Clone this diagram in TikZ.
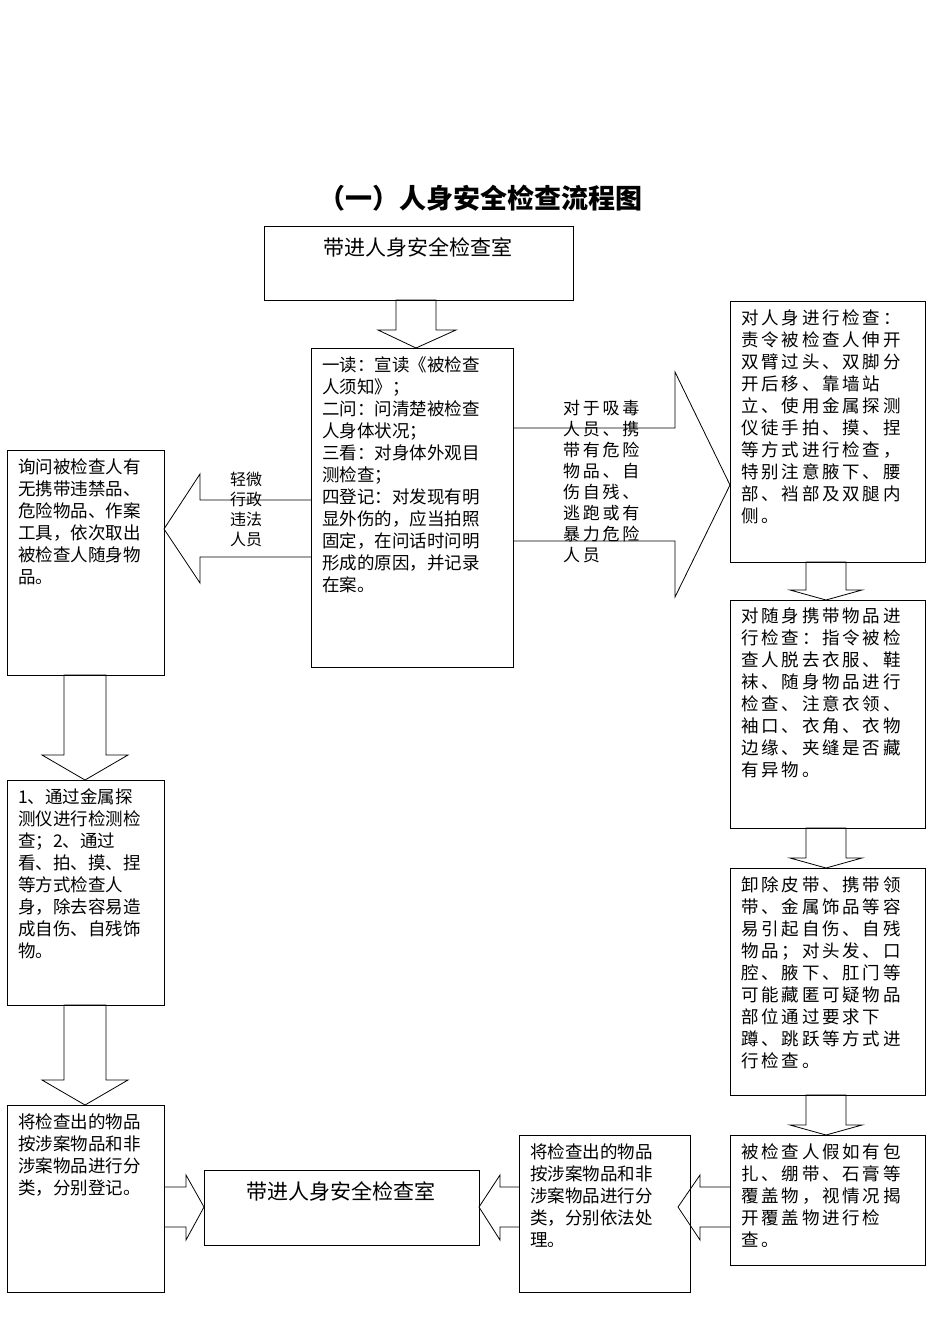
\documentclass[tikz,border=0pt]{standalone}
\usepackage{fontspec}
\setmainfont{Noto Sans CJK SC}
\newfontfamily\wide[LetterSpace=16]{Noto Sans CJK SC}
\begin{document}
\begin{tikzpicture}[x=1pt,y=-1pt,
 box/.style={draw,line width=0.8pt},
 txt/.style={anchor=north west,align=left,inner sep=0pt,font=\fontsize{17.5}{22}\selectfont},
 wtxt/.style={txt,font=\wide\fontsize{17.5}{22}\selectfont},
 barrow/.style={draw,line width=0.8pt,fill=white}]
\useasboundingbox (0,0) rectangle (950,1344);
\node[font=\bfseries\fontsize{27}{30}\selectfont] (title) at (480,198) {（一）人身安全检查流程图};
% block arrows
\draw[barrow] (396,300)--(436,300)--(436,330)--(456,330)--(416,348)--(378,330)--(396,330)--cycle;
\draw[barrow] (311,500)--(200,500)--(200,474)--(164,529)--(200,583)--(200,557)--(311,557);
\draw[barrow] (513,428)--(675,428)--(675,372)--(730,485)--(675,597)--(675,541)--(513,541);
\draw[barrow] (806,562)--(846,562)--(846,590)--(862,590)--(826,600)--(790,590)--(806,590)--cycle;
\draw[barrow] (806,828)--(846,828)--(846,858)--(862,858)--(826,868)--(790,858)--(806,858)--cycle;
\draw[barrow] (806,1095)--(846,1095)--(846,1125)--(862,1125)--(826,1135)--(790,1125)--(806,1125)--cycle;
\draw[barrow] (730,1187)--(700,1187)--(700,1175)--(678,1207)--(700,1240)--(700,1227)--(730,1227);
\draw[barrow] (519,1187)--(500,1187)--(500,1175)--(479,1207)--(500,1240)--(500,1227)--(519,1227);
\draw[barrow] (164,1187)--(186,1187)--(186,1175)--(204,1207)--(186,1240)--(186,1227)--(164,1227);
\draw[barrow] (64,675)--(106,675)--(106,755)--(128,755)--(85,780)--(42,755)--(64,755)--cycle;
\draw[barrow] (64,1005)--(106,1005)--(106,1080)--(128,1080)--(85,1105)--(42,1080)--(64,1080)--cycle;
% boxes
\draw[box] (264,226) rectangle (573,300);
\node[font=\fontsize{21}{24}\selectfont] (At) at (418,247) {带进人身安全检查室};
\draw[box] (311,348) rectangle (513,667);
\node[txt] (Bt) at (322,356) {一读：宣读《被检查\\人须知》；\\二问：问清楚被检查\\人身体状况；\\三看：对身体外观目\\测检查；\\四登记：对发现有明\\显外伤的，应当拍照\\固定，在问话时问明\\形成的原因，并记录\\在案。};
\draw[box] (7,450) rectangle (164,675);
\node[txt] (Ct) at (18,458) {询问被检查人有\\无携带违禁品、\\危险物品、作案\\工具，依次取出\\被检查人随身物\\品。};
\draw[box] (730,301) rectangle (925,562);
\node[wtxt] (Dt) at (741,309) {对人身进行检查：\\责令被检查人伸开\\双臂过头、双脚分\\开后移、靠墙站\\立、使用金属探测\\仪徒手拍、摸、捏\\等方式进行检查，\\特别注意腋下、腰\\部、裆部及双腿内\\侧。};
\draw[box] (730,600) rectangle (925,828);
\node[wtxt] (Et) at (741,608) {对随身携带物品进\\行检查：指令被检\\查人脱去衣服、鞋\\袜、随身物品进行\\检查、注意衣领、\\袖口、衣角、衣物\\边缘、夹缝是否藏\\有异物。};
\draw[box] (730,868) rectangle (925,1095);
\node[wtxt] (Ft) at (741,876) {卸除皮带、携带领\\带、金属饰品等容\\易引起自伤、自残\\物品；对头发、口\\腔、腋下、肛门等\\可能藏匿可疑物品\\部位通过要求下\\蹲、跳跃等方式进\\行检查。};
\draw[box] (730,1135) rectangle (925,1265);
\node[wtxt] (Gt) at (741,1143) {被检查人假如有包\\扎、绷带、石膏等\\覆盖物，视情况揭\\开覆盖物进行检\\查。};
\draw[box] (519,1135) rectangle (690,1292);
\node[txt] (Ht) at (530,1143) {将检查出的物品\\按涉案物品和非\\涉案物品进行分\\类，分别依法处\\理。};
\draw[box] (204,1170) rectangle (479,1245);
\node[font=\fontsize{21}{24}\selectfont] (It) at (341,1191) {带进人身安全检查室};
\draw[box] (7,1105) rectangle (164,1292);
\node[txt] (Jt) at (18,1113) {将检查出的物品\\按涉案物品和非\\涉案物品进行分\\类，分别登记。};
\draw[box] (7,780) rectangle (164,1005);
\node[txt] (Kt) at (18,788) {1、通过金属探\\测仪进行检测检\\查；2、通过\\看、拍、摸、捏\\等方式检查人\\身，除去容易造\\成自伤、自残饰\\物。};
% labels
\node[txt,font=\fontsize{16}{20}\selectfont] (L1) at (230,472) {轻微\\行政\\违法\\人员};
\node[txt,font=\wide\fontsize{17}{21}\selectfont] (L2) at (563,400) {对于吸毒\\人员、携\\带有危险\\物品、自\\伤自残、\\逃跑或有\\暴力危险\\人员};
\end{tikzpicture}
\end{document}
